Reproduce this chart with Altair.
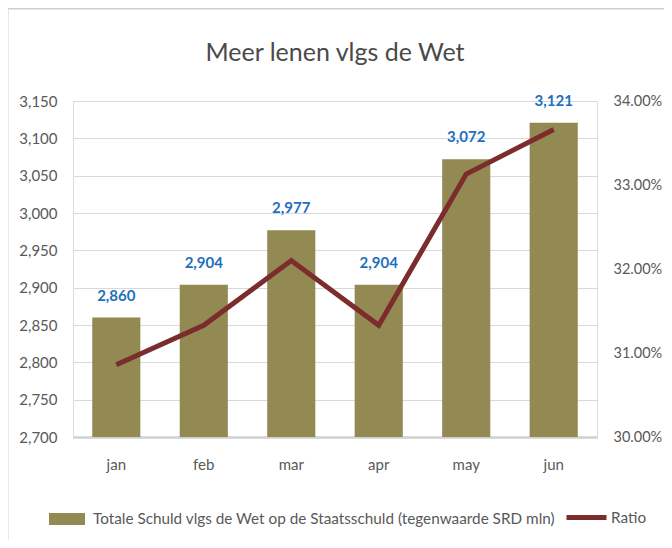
import altair as alt
import pandas as pd

months = ["jan", "feb", "mar", "apr", "may", "jun"]
schuld = [2860, 2904, 2977, 2904, 3072, 3121]
ratio = [0.3086, 0.3133, 0.3210, 0.3133, 0.3313, 0.3366]
left_ticks = [2700, 2750, 2800, 2850, 2900, 2950, 3000, 3050, 3100, 3150]
right_ticks = [0.30, 0.31, 0.32, 0.33, 0.34]
bar_name = "Totale Schuld vlgs de Wet op de Staatsschuld (tegenwaarde SRD mln)"
line_name = "Ratio"

df = pd.DataFrame({"month": months, "schuld": schuld, "ratio": ratio,
                   "s1": [bar_name] * 6, "s2": [line_name] * 6})

FONT = "Lato"
GRAY = "#595959"

x = alt.X("month:N", sort=months, title=None,
          scale=alt.Scale(paddingInner=0.45, paddingOuter=0.22),
          axis=alt.Axis(labelAngle=0, ticks=False, labelPadding=20, labelFontSize=15,
                        labelColor=GRAY, labelFont=FONT, domainColor="#d0d0d0",
                        domainWidth=2.5, grid=False))

yaxis = alt.Axis(values=left_ticks, format=",.0f", ticks=False, domain=False,
                 labelPadding=16, labelFontSize=15, labelColor=GRAY,
                 labelFont=FONT, gridColor="#d9d9d9", gridWidth=1)
yscale = alt.Scale(domain=[2700, 3150], nice=False, zero=False)

base = alt.Chart(df)

bars = base.mark_bar(clip=True).encode(
    x=x,
    y=alt.Y("schuld:Q", title=None, scale=yscale, axis=yaxis),
    color=alt.Color("s1:N", title=None,
                    scale=alt.Scale(domain=[bar_name], range=["#938953"]),
                    legend=alt.Legend(orient="none", legendX=-30, legendY=394,
                                      symbolType="stroke", symbolSize=1296,
                                      symbolStrokeWidth=12, symbolStrokeColor="#938953",
                                      labelFontSize=15.3, labelColor=GRAY, labelFont=FONT,
                                      labelOffset=2, padding=0, labelLimit=700)),
)

labels = base.mark_text(baseline="alphabetic", dy=-17, fontSize=15, fontWeight="bold",
                        color="#1F6FBF", font=FONT).encode(
    x=x,
    y=alt.Y("schuld:Q", title=None, scale=yscale, axis=yaxis),
    text=alt.Text("schuld:Q", format=","),
)

line = base.mark_line(strokeWidth=5, strokeJoin="miter").encode(
    x=x,
    y=alt.Y("ratio:Q", title=None,
            scale=alt.Scale(domain=[0.30, 0.34], nice=False, zero=False),
            axis=alt.Axis(orient="right", values=right_ticks, format=".2%", ticks=False,
                          domain=False, grid=False, labelPadding=16, labelFontSize=14.5,
                          labelColor=GRAY, labelFont=FONT)),
    color=alt.Color("s2:N", title=None,
                    scale=alt.Scale(domain=[line_name], range=["#7B2C2C"]),
                    legend=alt.Legend(orient="none", legendX=491, legendY=394,
                                      symbolType="stroke", symbolSize=1600,
                                      symbolStrokeWidth=5,
                                      labelFontSize=15.3, labelColor=GRAY, labelFont=FONT,
                                      labelOffset=2, padding=0)),
)

frame_df = pd.DataFrame({"a": [0]})
frame_top = alt.Chart(frame_df).mark_rule(color="#cfcfcf", strokeWidth=3).encode(
    x=alt.value(-67), x2=alt.value(700), y=alt.value(-93))
frame_left = alt.Chart(frame_df).mark_rule(color="#cfcfcf", strokeWidth=3).encode(
    x=alt.value(-66), y=alt.value(-94), y2=alt.value(600))

chart = alt.layer(alt.layer(bars, labels), line, frame_top, frame_left).resolve_scale(
    y="independent", color="independent"
).properties(
    width=524, height=336,
    autosize=alt.AutoSizeParams(type="none"),
    padding={"left": 65, "top": 93, "right": 67, "bottom": 103},
    title=alt.Title("Meer lenen vlgs de Wet", fontSize=25, font=FONT, fontWeight="normal",
                    color="#4a4a4a", anchor="middle", offset=-60),
).configure_view(stroke=None).configure(background="white")

chart.save("out.html", embed_options={"renderer": "svg", "actions": False})
